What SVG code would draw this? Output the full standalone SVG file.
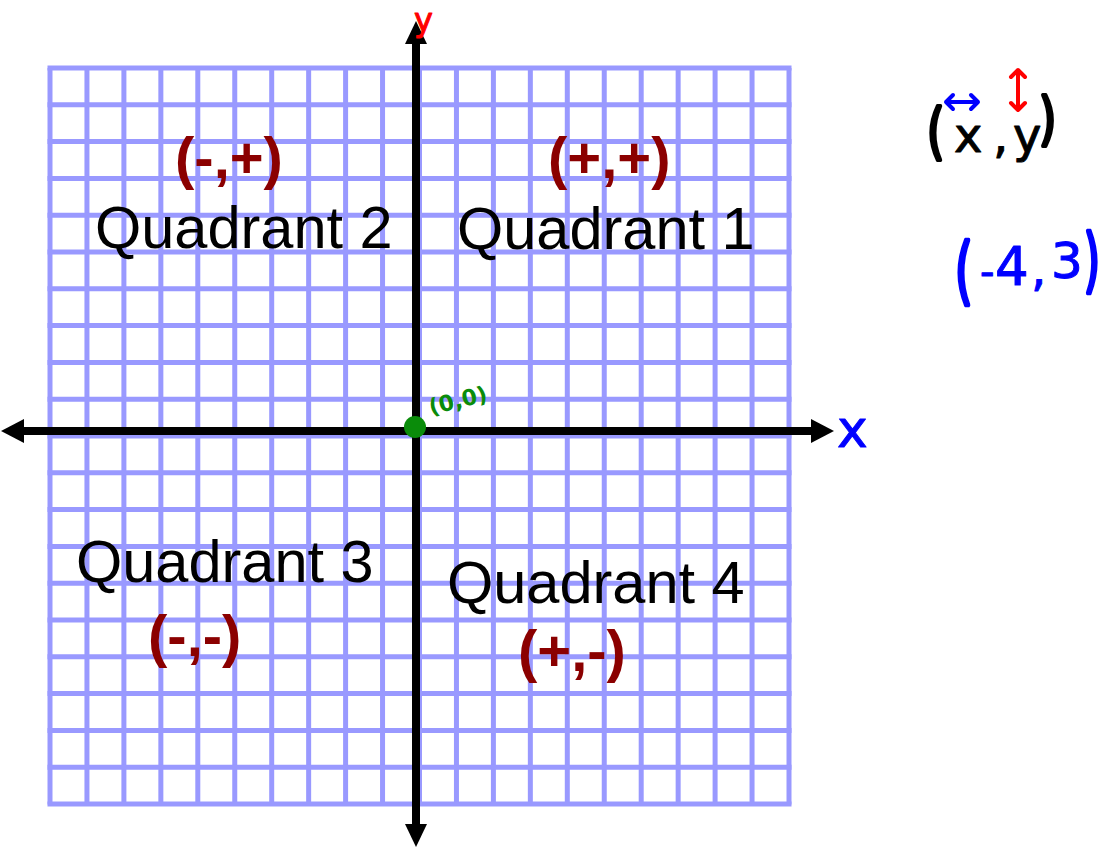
<svg xmlns="http://www.w3.org/2000/svg" width="1104" height="849" viewBox="0 0 1104 849">
<style>
.grid{fill:none;stroke:#9999ff;stroke-width:5}
.axis{stroke:#000;stroke-width:8;fill:none}
.quad{font-family:"Liberation Sans",Arial,sans-serif;font-size:59.5px;fill:#000}
.sign{font-family:"Liberation Sans",Arial,sans-serif;font-size:58px;font-weight:bold;fill:#8b0000}
.hand{font-family:"DejaVu Sans",sans-serif;stroke-linejoin:round;stroke-width:1}
.par{stroke-width:3.5}
.blk{fill:#000;stroke:#000}
.blu{fill:#0000ff;stroke:#0000ff}
</style>
<rect width="1104" height="849" fill="#fff"/>
<g id="grid">
<path class="grid" d="M50,68V804.5M86.95,68V804.5M123.9,68V804.5M160.85,68V804.5M197.8,68V804.5M234.75,68V804.5M271.7,68V804.5M308.65,68V804.5M345.6,68V804.5M382.55,68V804.5M419.5,68V804.5M456.45,68V804.5M493.4,68V804.5M530.35,68V804.5M567.3,68V804.5M604.25,68V804.5M641.2,68V804.5M678.15,68V804.5M715.1,68V804.5M752.05,68V804.5M789,68V804.5"/>
<path class="grid" d="M47.5,68H791.5M47.5,104.8H791.5M47.5,141.6H791.5M47.5,178.4H791.5M47.5,215.2H791.5M47.5,252H791.5M47.5,288.8H791.5M47.5,325.6H791.5M47.5,362.4H791.5M47.5,399.2H791.5M47.5,436H791.5M47.5,472.8H791.5M47.5,509.6H791.5M47.5,546.4H791.5M47.5,583.2H791.5M47.5,620H791.5M47.5,656.8H791.5M47.5,693.6H791.5M47.5,730.4H791.5M47.5,767.2H791.5M47.5,804H791.5"/>
</g>
<g id="connectors">
<line class="axis" x1="416" y1="40" x2="416" y2="828"/>
<line class="axis" x1="20" y1="431" x2="815" y2="431"/>
<polygon points="416,21 405,44 427,44" fill="#000"/>
<polygon points="416,847 405,824 427,824" fill="#000"/>
<polygon points="1,431 24,419 24,443" fill="#000"/>
<polygon points="834,431 811,419 811,443" fill="#000"/>
</g>
<g id="origin">
<circle cx="415" cy="427" r="11" fill="#0a8c0a"/>
<text class="hand" x="428" y="410" font-size="22" font-weight="bold" fill="#0a8c0a" transform="rotate(-14 450 400)">(0,0)</text>
</g>
<g id="axis-labels">
<text class="hand blu" x="837" y="447" font-size="52">x</text>
<text class="hand" x="414" y="31" font-size="32" fill="#ff0000" stroke="#ff0000" stroke-width="1.5">y</text>
</g>
<g id="quadrant-2">
<text class="sign" x="175" y="178">(-,+)</text>
<text class="quad" x="95" y="248">Quadrant 2</text>
</g>
<g id="quadrant-1">
<text class="sign" x="548" y="178">(+,+)</text>
<text class="quad" x="457" y="249">Quadrant 1</text>
</g>
<g id="quadrant-3">
<text class="quad" x="76" y="582">Quadrant 3</text>
<text class="sign" x="148" y="656">(-,-)</text>
</g>
<g id="quadrant-4">
<text class="quad" x="447" y="603">Quadrant 4</text>
<text class="sign" x="518" y="671">(+,-)</text>
</g>
<g id="xy-note">
<text class="hand blk par" transform="translate(927,152) scale(0.85,1.15)" font-size="52">(</text>
<text class="hand blk" x="954" y="152" font-size="48">x</text>
<text class="hand blk" x="993" y="152" font-size="48">,</text>
<text class="hand blk" x="1013" y="152" font-size="48">y</text>
<text class="hand blk par" transform="translate(1039,138) scale(0.85,1.1)" font-size="52">)</text>
<path d="M946,102H978M953,95L946,102L953,109M971,95L978,102L971,109" fill="none" stroke="#0000ff" stroke-width="4" stroke-linecap="round" stroke-linejoin="round"/>
<path d="M1018,70V110M1011,77L1018,70L1025,77M1011,103L1018,110L1025,103" fill="none" stroke="#ff0000" stroke-width="4" stroke-linecap="round" stroke-linejoin="round"/>
</g>
<g id="example-point">
<text class="hand blu par" transform="translate(955,296) scale(0.8,1.3)" font-size="56">(</text>
<text class="hand blu" x="980" y="286" font-size="40">-</text>
<text class="hand blu" x="995" y="285" font-size="53">4</text>
<text class="hand blu" x="1031" y="285" font-size="48">,</text>
<text class="hand blu" x="1051" y="278" font-size="50">3</text>
<text class="hand blu par" transform="translate(1084,284) scale(0.75,1.3)" font-size="54">)</text>
</g>
</svg>
